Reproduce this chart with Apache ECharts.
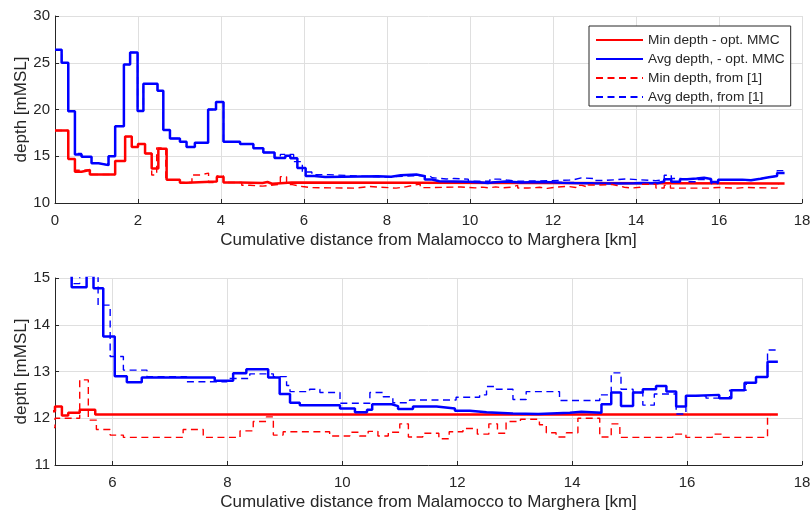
<!DOCTYPE html>
<html>
<head>
<meta charset="utf-8">
<script src="https://cdn.jsdelivr.net/npm/echarts@6/dist/echarts.min.js"></script>
<style>
  html, body { margin: 0; padding: 0; background: #fff; }
  #chart { width: 810px; height: 514px; }
</style>
</head>
<body>
<div id="chart"></div>
<script>
// [km, depth] - each point is the start of a flat step
const avgOpt = [
  [0, 26.4], [0.16, 25.0], [0.32, 19.8], [0.48, 15.2], [0.64, 14.95], [0.88, 14.25], [1.05, 14.05],
  [1.29, 15.0], [1.45, 18.2], [1.66, 24.8], [1.81, 26.1], [1.99, 19.85], [2.13, 22.75], [2.47, 22.0],
  [2.61, 17.8], [2.77, 16.9], [3.01, 16.55], [3.17, 16.0], [3.37, 16.45], [3.69, 20.0], [3.88, 20.8],
  [4.06, 16.55], [4.46, 16.3], [4.78, 15.85], [5.02, 15.4], [5.29, 14.8], [5.55, 15.05], [5.67, 14.78],
  [5.84, 13.75], [6.04, 12.9], [6.25, 12.77], [6.51, 12.87], [7.78, 12.8], [8.1, 12.96], [8.33, 13.05],
  [8.71, 12.87], [8.91, 12.52], [9.09, 12.33], [9.26, 12.28], [9.96, 12.21], [10.22, 12.13], [10.43, 12.18],
  [10.52, 12.3], [10.86, 12.26], [10.97, 12.2], [11.23, 12.25], [11.64, 12.21], [11.96, 12.16], [12.22, 12.13],
  [12.51, 12.1], [12.97, 12.09], [13.41, 12.12], [13.96, 12.14], [14.16, 12.12], [14.51, 12.3], [14.68, 12.55],
  [14.85, 12.26], [15.06, 12.55], [15.23, 12.62], [15.46, 12.69], [15.64, 12.57], [15.81, 12.25], [15.98, 12.48],
  [16.15, 12.5], [16.56, 12.43], [16.77, 12.6], [17.0, 12.76], [17.2, 12.88], [17.4, 13.21], [17.58, 13.21]
];
const minOpt = [
  [0, 17.75], [0.32, 14.7], [0.48, 13.35], [0.64, 13.53], [0.84, 13.05], [1.45, 14.5], [1.69, 17.1],
  [1.85, 16.0], [2.0, 16.3], [2.17, 15.3], [2.33, 13.7], [2.49, 15.8], [2.69, 12.5], [3.01, 12.17],
  [3.17, 12.3], [3.9, 12.8], [4.06, 12.2], [4.46, 12.15], [5.0, 12.25], [5.12, 12.06], [5.23, 12.12],
  [5.43, 12.18], [5.7, 12.08], [17.58, 12.08]
];
const avgRef = [
  [0, 26.4], [0.16, 25.0], [0.32, 19.8], [0.48, 15.3], [0.64, 14.95], [0.88, 14.25], [1.05, 14.05],
  [1.29, 15.0], [1.45, 18.2], [1.66, 24.8], [1.81, 26.1], [1.99, 19.85], [2.13, 22.75], [2.47, 22.0],
  [2.61, 17.8], [2.77, 16.9], [3.01, 16.55], [3.17, 16.0], [3.37, 16.45], [3.69, 20.0], [3.88, 20.8],
  [4.06, 16.55], [4.46, 16.3], [4.78, 15.85], [5.02, 15.4], [5.29, 14.88], [5.43, 15.2], [5.75, 14.42],
  [5.96, 13.32], [6.19, 13.03], [6.6, 12.89], [7.29, 12.78], [7.99, 12.85], [8.39, 12.95], [8.8, 12.89],
  [9.03, 12.7], [9.09, 12.57], [9.43, 12.62], [9.61, 12.55], [9.96, 12.32], [10.48, 12.55], [10.71, 12.46],
  [10.88, 12.33], [11.17, 12.39], [11.98, 12.45], [12.39, 12.5], [12.51, 12.68], [12.68, 12.62], [12.97, 12.4],
  [13.2, 12.57], [13.78, 12.38], [14.48, 12.5], [14.68, 12.97], [14.85, 12.62], [15.06, 12.55], [15.23, 12.28],
  [15.43, 12.52], [15.81, 12.09], [15.98, 12.48], [16.33, 12.43], [16.74, 12.6], [17.03, 12.76], [17.2, 12.88],
  [17.4, 13.46], [17.55, 13.46]
];
const minRef = [
  [0, 17.75], [0.32, 14.7], [0.48, 13.5], [0.64, 13.55], [0.84, 13.05], [1.45, 14.5], [1.69, 17.1],
  [1.85, 16.0], [2.0, 16.3], [2.17, 15.3], [2.33, 13.0], [2.45, 15.9], [2.67, 12.5], [3.01, 12.2],
  [3.3, 13.0], [3.5, 13.2], [3.7, 12.2], [3.9, 12.9], [4.06, 12.2], [4.5, 11.9], [4.7, 11.8], [5.0, 12.0],
  [5.43, 12.82], [5.58, 11.96], [5.72, 11.76], [5.96, 11.64], [6.19, 11.59], [7.23, 11.76], [7.58, 11.59],
  [8.22, 11.73], [8.45, 11.93], [8.68, 12.03], [8.8, 11.64], [8.97, 11.71], [9.78, 11.62], [10.13, 11.7],
  [10.3, 11.62], [10.45, 11.72], [10.62, 11.62], [10.8, 11.7], [11.0, 11.88], [11.15, 11.6], [11.4, 11.68],
  [11.68, 11.56], [11.86, 11.71], [12.1, 11.78], [12.35, 11.66], [12.55, 11.88], [12.7, 11.68], [12.85, 11.93],
  [13.1, 11.98], [13.43, 11.86], [13.55, 11.69], [13.72, 11.6], [13.9, 11.69], [14.1, 12.0], [14.48, 11.6],
  [14.68, 11.88], [14.83, 11.59], [15.75, 11.66], [15.98, 11.59], [16.44, 11.66], [16.62, 11.59], [17.4, 12.05],
  [17.45, 12.05]
];

const names = ['Min depth - opt. MMC', 'Avg depth, - opt. MMC', 'Min depth, from [1]', 'Avg depth, from [1]'];
const topXTicks = [0, 2, 4, 6, 8, 10, 12, 14, 16, 18];
const bottomXTicks = [6, 8, 10, 12, 14, 16, 18];
const xTitle = 'Cumulative distance from Malamocco to Marghera [km]';
const yTitle = 'depth [mMSL]';

const chart = echarts.init(document.getElementById('chart'));
var fontColor = '#262626';
var font = 'Liberation Sans, Arial, sans-serif';

function xAxis(gridIndex, min, ticks) {
  return {
    type: 'value', gridIndex: gridIndex, min: min, max: 18,
    name: xTitle, nameLocation: 'middle', nameGap: 29, nameMoveOverlap: false,
    nameTextStyle: { color: fontColor, fontSize: 17, fontFamily: font },
    axisLine: { show: true, onZero: false, lineStyle: { color: fontColor, width: 1 } },
    axisTick: { show: true, inside: true, length: 4, customValues: ticks, lineStyle: { color: fontColor } },
    axisLabel: { color: fontColor, fontSize: 15, fontFamily: font, margin: 10, customValues: ticks },
    splitLine: { show: true, lineStyle: { color: '#dfdfdf', width: 1 } }
  };
}
function yAxis(gridIndex, min, max, step) {
  return {
    type: 'value', gridIndex: gridIndex, min: min, max: max, interval: step,
    name: yTitle, nameLocation: 'middle', nameGap: 25, nameMoveOverlap: false,
    nameTextStyle: { color: fontColor, fontSize: 17, fontFamily: font },
    axisLine: { show: true, onZero: false, lineStyle: { color: fontColor, width: 1 } },
    axisTick: { show: true, inside: true, length: 4, lineStyle: { color: fontColor } },
    axisLabel: { color: fontColor, fontSize: 15, fontFamily: font, margin: 5 },
    splitLine: { show: true, lineStyle: { color: '#dfdfdf', width: 1 } }
  };
}
function line(name, data, idx, color, dashed) {
  return {
    name: name, type: 'line', xAxisIndex: idx, yAxisIndex: idx,
    data: data, step: 'end', symbol: 'none', showSymbol: false,
    sampling: null, animation: false, z: dashed ? 3 : 2,
    lineStyle: { color: color, width: dashed ? 1.4 : 2.5, type: dashed ? [7, 4.5] : 'solid' },
    itemStyle: { color: color }
  };
}

var series = [];
[0, 1].forEach(function (i) {
  series.push(line(names[0], minOpt, i, '#ff0000', false));
  series.push(line(names[1], avgOpt, i, '#0000ff', false));
  series.push(line(names[2], minRef, i, '#ff0000', true));
  series.push(line(names[3], avgRef, i, '#0000ff', true));
});

var option = {
  backgroundColor: '#fff',
  animation: false,
  grid: [
    { left: 55, right: 8, top: 16, height: 187, outerBoundsMode: 'none', containLabel: false },
    { left: 55, right: 8, top: 278, height: 187, outerBoundsMode: 'none', containLabel: false }
  ],
  legend: {
    data: names,
    orient: 'vertical',
    left: 589, top: 26,
    padding: [7, 6, 2, 6],
    itemWidth: 47, itemHeight: 14, itemGap: 5,
    itemStyle: { color: 'transparent', borderColor: 'transparent', borderWidth: 0 },
    backgroundColor: '#fff',
    borderColor: fontColor, borderWidth: 1, borderRadius: 0,
    textStyle: { color: fontColor, fontSize: 13.7, fontFamily: font }
  },
  xAxis: [xAxis(0, 0, topXTicks), xAxis(1, 5, bottomXTicks)],
  yAxis: [yAxis(0, 10, 30, 5), yAxis(1, 11, 15, 1)],
  series: series
};

chart.setOption(option);
</script>
</body>
</html>
